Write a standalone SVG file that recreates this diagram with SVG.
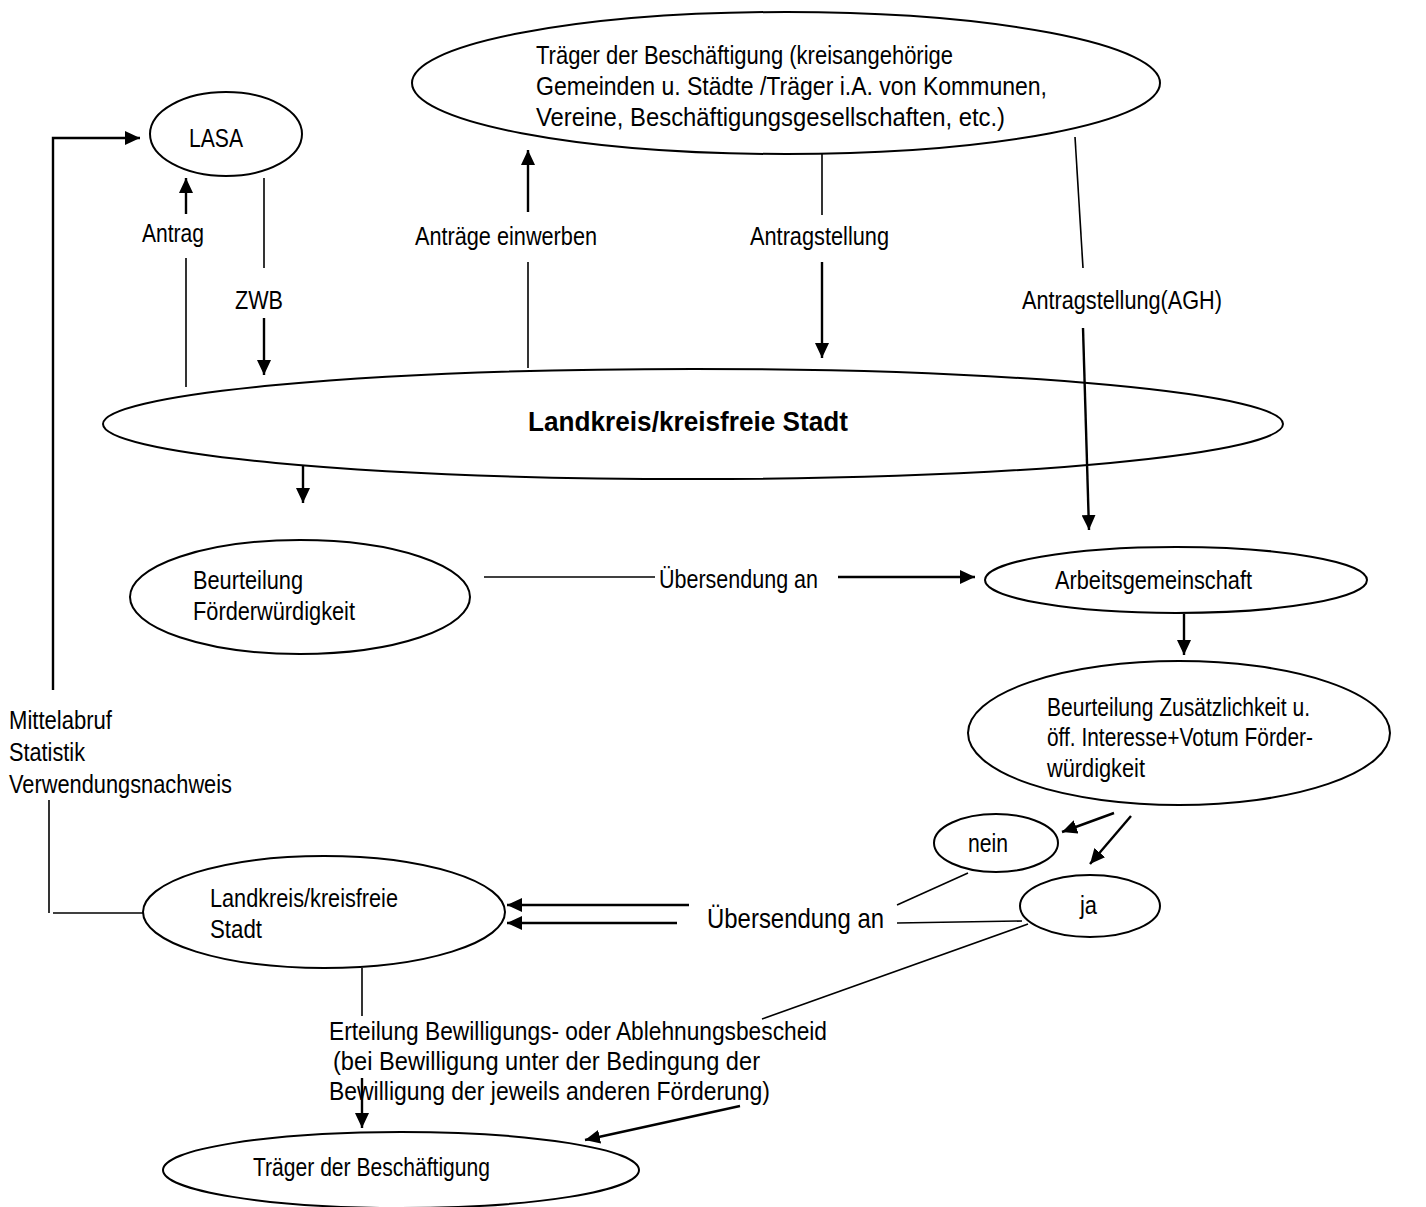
<svg xmlns="http://www.w3.org/2000/svg" width="1426" height="1207" viewBox="0 0 1426 1207">
<style>
  .n ellipse { fill: none; stroke: #000; stroke-width: 2; }
  text { font-family: "Liberation Sans", Arial, sans-serif; font-size: 25px; fill: #000; }
  .b { font-weight: bold; font-size: 27px; }
  .big { font-size: 28px; }
  .c line, .c path { fill: none; stroke: #000; stroke-width: 1.6; }
  .c .a { stroke-width: 2.4; marker-end: url(#ah); }
</style>
<defs>
  <marker id="ah" markerUnits="userSpaceOnUse" markerWidth="16" markerHeight="14" refX="15" refY="7" orient="auto">
    <path d="M0,0 L15,7 L0,14 z" fill="#000"/>
  </marker>
</defs>
<rect width="1426" height="1207" fill="#fff"/>

<g id="connectors" class="c">
  <path class="a" d="M53,690 L53,138 L140,138"/>
  <line x1="186" y1="387" x2="186" y2="258"/>
  <line class="a" x1="186" y1="214" x2="186" y2="178"/>
  <line x1="264" y1="178" x2="264" y2="268"/>
  <line class="a" x1="264" y1="318" x2="264" y2="375"/>
  <line x1="528" y1="368" x2="528" y2="262"/>
  <line class="a" x1="528" y1="212" x2="528" y2="150"/>
  <line x1="822" y1="153" x2="822" y2="215"/>
  <line class="a" x1="822" y1="262" x2="822" y2="358"/>
  <line x1="1075" y1="137" x2="1083" y2="268"/>
  <line class="a" x1="1083" y1="328" x2="1089" y2="530"/>
  <line class="a" x1="303" y1="466" x2="303" y2="503"/>
  <line x1="484" y1="577" x2="655" y2="577"/>
  <line class="a" x1="838" y1="577" x2="975" y2="577"/>
  <line class="a" x1="1184" y1="614" x2="1184" y2="655"/>
  <line class="a" x1="1114" y1="813" x2="1062" y2="832"/>
  <line class="a" x1="1131" y1="816" x2="1090" y2="864"/>
  <line x1="897" y1="905" x2="968" y2="873"/>
  <line x1="897" y1="923" x2="1022" y2="921"/>
  <line x1="1028" y1="924" x2="762" y2="1019"/>
  <line class="a" x1="689" y1="905" x2="507" y2="905"/>
  <line class="a" x1="677" y1="923" x2="507" y2="923"/>
  <line x1="49" y1="800" x2="49" y2="913"/>
  <line x1="53" y1="913" x2="143" y2="913"/>
  <line x1="362" y1="968" x2="362" y2="1016"/>
  <line class="a" x1="362" y1="1078" x2="362" y2="1128"/>
  <line class="a" x1="740" y1="1106" x2="585" y2="1140"/>
</g>

<g id="n-lasa" class="n">
  <ellipse cx="226" cy="134" rx="76" ry="42"/>
  <text x="189" y="147" textLength="54" lengthAdjust="spacingAndGlyphs">LASA</text>
</g>
<g id="n-traeger-top" class="n">
  <ellipse cx="786" cy="83" rx="374" ry="71"/>
  <text x="536" y="64" textLength="417" lengthAdjust="spacingAndGlyphs">Träger der Beschäftigung (kreisangehörige</text>
  <text x="536" y="95" textLength="511" lengthAdjust="spacingAndGlyphs">Gemeinden u. Städte /Träger i.A. von Kommunen,</text>
  <text x="536" y="126" textLength="469" lengthAdjust="spacingAndGlyphs">Vereine, Beschäftigungsgesellschaften, etc.)</text>
</g>
<g id="n-landkreis" class="n">
  <ellipse cx="693" cy="424" rx="590" ry="55"/>
  <text class="b" x="528" y="431" textLength="320" lengthAdjust="spacingAndGlyphs">Landkreis/kreisfreie Stadt</text>
</g>
<g id="n-beurteilung" class="n">
  <ellipse cx="300" cy="597" rx="170" ry="57"/>
  <text x="193" y="589" textLength="110" lengthAdjust="spacingAndGlyphs">Beurteilung</text>
  <text x="193" y="620" textLength="162" lengthAdjust="spacingAndGlyphs">Förderwürdigkeit</text>
</g>
<g id="n-arge" class="n">
  <ellipse cx="1176" cy="580" rx="191" ry="33"/>
  <text x="1055" y="589" textLength="197" lengthAdjust="spacingAndGlyphs">Arbeitsgemeinschaft</text>
</g>
<g id="n-zusaetzlich" class="n">
  <ellipse cx="1179" cy="733" rx="211" ry="72"/>
  <text x="1047" y="716" textLength="263" lengthAdjust="spacingAndGlyphs">Beurteilung Zusätzlichkeit u.</text>
  <text x="1047" y="746" textLength="266" lengthAdjust="spacingAndGlyphs">öff. Interesse+Votum Förder-</text>
  <text x="1047" y="777" textLength="98" lengthAdjust="spacingAndGlyphs">würdigkeit</text>
</g>
<g id="n-nein" class="n">
  <ellipse cx="996" cy="843" rx="62" ry="29"/>
  <text x="968" y="852" textLength="40" lengthAdjust="spacingAndGlyphs">nein</text>
</g>
<g id="n-ja" class="n">
  <ellipse cx="1090" cy="906" rx="70" ry="31"/>
  <text x="1080" y="914" textLength="17" lengthAdjust="spacingAndGlyphs">ja</text>
</g>
<g id="n-landkreis2" class="n">
  <ellipse cx="324" cy="912" rx="181" ry="56"/>
  <text x="210" y="907" textLength="188" lengthAdjust="spacingAndGlyphs">Landkreis/kreisfreie</text>
  <text x="210" y="938" textLength="52" lengthAdjust="spacingAndGlyphs">Stadt</text>
</g>
<g id="n-traeger-bottom" class="n">
  <ellipse cx="401" cy="1170" rx="238" ry="38"/>
  <text x="253" y="1176" textLength="237" lengthAdjust="spacingAndGlyphs">Träger der Beschäftigung</text>
</g>

<g id="labels">
  <text x="142" y="242" textLength="62" lengthAdjust="spacingAndGlyphs">Antrag</text>
  <text x="235" y="309" textLength="48" lengthAdjust="spacingAndGlyphs">ZWB</text>
  <text x="415" y="245" textLength="182" lengthAdjust="spacingAndGlyphs">Anträge einwerben</text>
  <text x="750" y="245" textLength="139" lengthAdjust="spacingAndGlyphs">Antragstellung</text>
  <text x="1022" y="309" textLength="200" lengthAdjust="spacingAndGlyphs">Antragstellung(AGH)</text>
  <text x="659" y="588" textLength="159" lengthAdjust="spacingAndGlyphs">Übersendung an</text>
  <text class="big" x="707" y="928" textLength="177" lengthAdjust="spacingAndGlyphs">Übersendung an</text>
  <text x="9" y="729" textLength="103" lengthAdjust="spacingAndGlyphs">Mittelabruf</text>
  <text x="9" y="761" textLength="76" lengthAdjust="spacingAndGlyphs">Statistik</text>
  <text x="9" y="793" textLength="223" lengthAdjust="spacingAndGlyphs">Verwendungsnachweis</text>
  <text x="329" y="1040" textLength="498" lengthAdjust="spacingAndGlyphs">Erteilung Bewilligungs- oder Ablehnungsbescheid</text>
  <text x="333" y="1070" textLength="427" lengthAdjust="spacingAndGlyphs"> (bei Bewilligung unter der Bedingung der</text>
  <text x="329" y="1100" textLength="441" lengthAdjust="spacingAndGlyphs">Bewilligung der jeweils anderen Förderung)</text>
</g>
</svg>
